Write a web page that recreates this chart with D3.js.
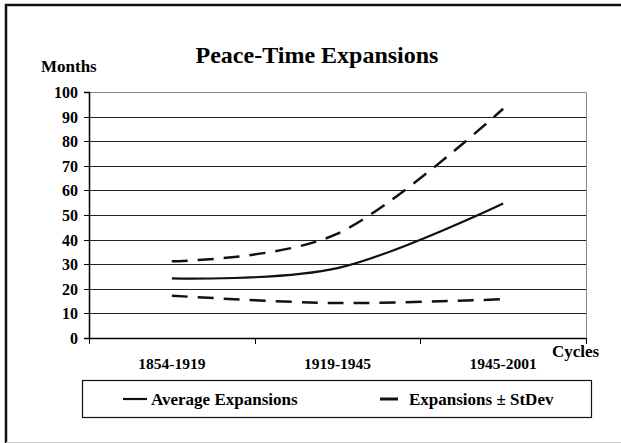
<!DOCTYPE html>
<html>
<head>
<meta charset="utf-8">
<script src="https://cdn.jsdelivr.net/npm/d3@7/dist/d3.min.js"></script>
<style>
  html, body { margin: 0; padding: 0; background: #fff; }
  svg { display: block; }
</style>
</head>
<body>
<script>
// ---- data ----
const categories = ["1854-1919", "1919-1945", "1945-2001"];
const averageExpansions = [24.2, 28.4, 54.7];
const upperStdDev = [31.2, 42.4, 93.2];
const lowerStdDev = [17.2, 14.2, 15.8];
const yTicks = [0, 10, 20, 30, 40, 50, 60, 70, 80, 90, 100];
const titleText = "Peace-Time Expansions";
const yAxisTitle = "Months";
const xAxisTitle = "Cycles";
const legendLabels = ["Average Expansions", "Expansions \u00b1 StDev"];

const FONT = "'Liberation Serif', 'Times New Roman', Times, 'DejaVu Serif', serif";
const W = 621, H = 443;
const plot = { left: 89, right: 586, top: 92, bottom: 338 };

const svg = d3.select("body").append("svg").attr("width", W).attr("height", H);

function txt(sel, size) {
  return sel.attr("font-family", FONT).style("font-family", FONT)
    .attr("font-weight", "bold").style("font-weight", "bold")
    .style("font-size", size + "px").attr("fill", "#000");
}

// outer border
svg.append("line").attr("x1", 6).attr("x2", 6).attr("y1", 4).attr("y2", 443)
  .attr("stroke", "#111").attr("stroke-width", 2.5);
svg.append("line").attr("x1", 5).attr("x2", 621).attr("y1", 5).attr("y2", 5)
  .attr("stroke", "#111").attr("stroke-width", 2.5);
svg.append("line").attr("x1", 6).attr("x2", 621).attr("y1", 442.5).attr("y2", 442.5)
  .attr("stroke", "#ccc").attr("stroke-width", 1);

const x = d3.scaleBand().domain(categories).range([plot.left, plot.right]).paddingInner(0).paddingOuter(0);
const y = d3.scaleLinear().domain([0, 100]).range([plot.bottom, plot.top]);
const cx = c => x(c) + x.bandwidth() / 2;

// gridlines
svg.append("g").selectAll("line").data(yTicks.filter(d => d > 0)).join("line")
  .attr("x1", plot.left).attr("x2", plot.right)
  .attr("y1", d => Math.round(y(d)) + 0.5).attr("y2", d => Math.round(y(d)) + 0.5)
  .attr("stroke", d => d === 100 ? "#888" : "#222").attr("stroke-width", 1);
// right border of plot
svg.append("line").attr("x1", plot.right + 0.5).attr("x2", plot.right + 0.5)
  .attr("y1", Math.round(y(100)) + 0.5).attr("y2", plot.bottom)
  .attr("stroke", "#888").attr("stroke-width", 1);

// y axis
const yAxis = d3.axisLeft(y).tickValues(yTicks).tickSize(5).tickPadding(6);
const gy = svg.append("g").attr("transform", `translate(${plot.left},0)`).call(yAxis);
gy.attr("font-family", null).attr("font-size", null);
gy.select(".domain").attr("stroke", "#000").attr("stroke-width", 1.5);
gy.selectAll(".tick line").attr("stroke", "#000");
txt(gy.selectAll(".tick text"), 16);
gy.selectAll(".tick").attr("transform", d => `translate(0,${Math.round(y(d)) + 0.5})`);

// x axis (ticks at category boundaries)
const boundaries = categories.map(c => x(c)).concat([plot.right]);
const gx = svg.append("g");
gx.append("line").attr("x1", plot.left).attr("x2", plot.right)
  .attr("y1", plot.bottom + 0.5).attr("y2", plot.bottom + 0.5)
  .attr("stroke", "#000").attr("stroke-width", 1.5);
gx.selectAll("line.tk").data(boundaries).join("line").attr("class", "tk")
  .attr("x1", d => Math.round(d) + 0.5).attr("x2", d => Math.round(d) + 0.5)
  .attr("y1", plot.bottom).attr("y2", plot.bottom + 6)
  .attr("stroke", "#000").attr("stroke-width", 1);
txt(gx.selectAll("text").data(categories).join("text")
  .attr("x", d => cx(d)).attr("y", 369).attr("text-anchor", "middle")
  .text(d => d), 15.5);

// titles
txt(svg.append("text").attr("x", 317).attr("y", 63).attr("text-anchor", "middle").text(titleText), 24);
txt(svg.append("text").attr("x", 41).attr("y", 72).text(yAxisTitle), 17);
txt(svg.append("text").attr("x", 552).attr("y", 357).text(xAxisTitle), 17);

// lines
const line = d3.line().x((d, i) => cx(categories[i])).y(d => y(d)).curve(d3.curveCatmullRom.alpha(0));
svg.append("path").datum(upperStdDev).attr("d", line).attr("fill", "none")
  .attr("stroke", "#111").attr("stroke-width", 2.5).attr("stroke-dasharray", "16,10");
svg.append("path").datum(lowerStdDev).attr("d", line).attr("fill", "none")
  .attr("stroke", "#111").attr("stroke-width", 2.5).attr("stroke-dasharray", "16,10");
svg.append("path").datum(averageExpansions).attr("d", line).attr("fill", "none")
  .attr("stroke", "#111").attr("stroke-width", 2.2);

// legend
const lg = svg.append("g");
lg.append("rect").attr("x", 82.5).attr("y", 380.5).attr("width", 509).attr("height", 37)
  .attr("fill", "#fff").attr("stroke", "#111").attr("stroke-width", 1.2);
lg.append("line").attr("x1", 123).attr("x2", 147).attr("y1", 399).attr("y2", 399)
  .attr("stroke", "#111").attr("stroke-width", 2.2);
txt(lg.append("text").attr("x", 151).attr("y", 405).text(legendLabels[0]), 17);
lg.append("line").attr("x1", 380).attr("x2", 398).attr("y1", 399).attr("y2", 399)
  .attr("stroke", "#111").attr("stroke-width", 3);
txt(lg.append("text").attr("x", 409).attr("y", 405).text(legendLabels[1]), 17);
</script>
</body>
</html>
